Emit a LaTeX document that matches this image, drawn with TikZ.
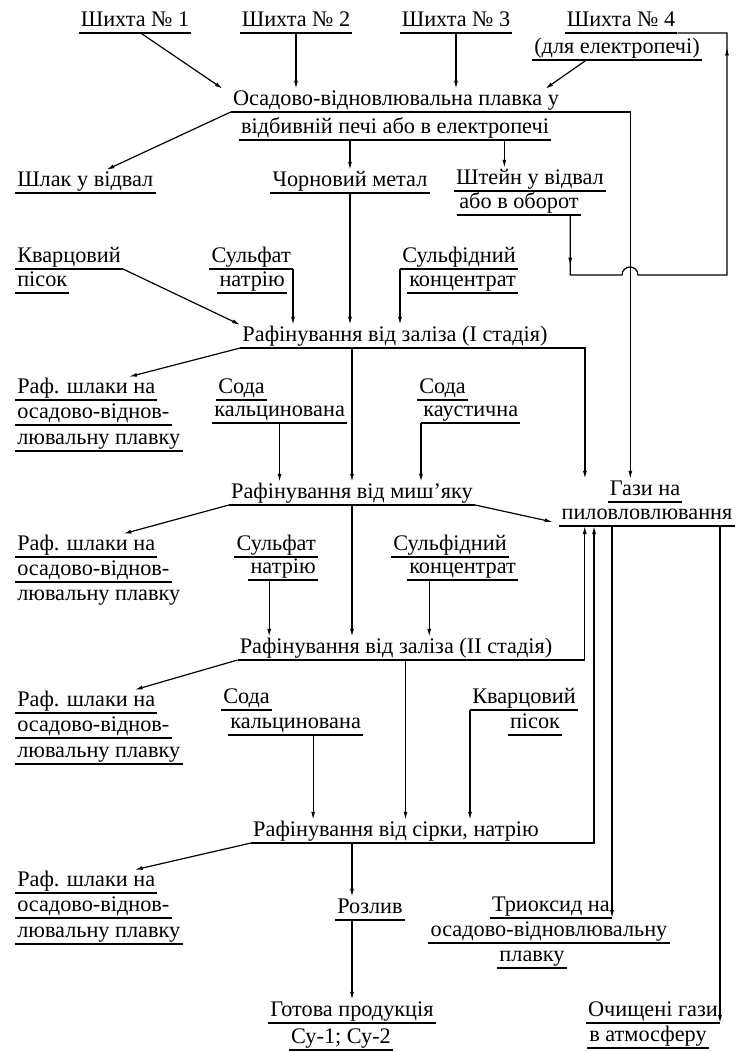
\documentclass[tikz,border=0pt]{standalone}
\usepackage{fontspec}
\setmainfont{Liberation Serif}
\usetikzlibrary{arrows.meta,calc,decorations.markings}

\begin{document}
\begin{tikzpicture}[x=0.75pt,y=-0.75pt,
    txt/.style={font=\fontsize{16.7}{19}\selectfont,inner xsep=1.5pt,inner ysep=0pt,
      text height=12pt,text depth=5pt,anchor=south},
    lbl/.style={txt,append after command={(\tikzlastnode.south west) edge[line width=1.8pt] (\tikzlastnode.south east)}},
    ln/.style={line width=0.9pt},
    arr/.style={ln,-{Latex[length=6pt,width=3pt]}}]
  \useasboundingbox (0,0) rectangle (735,1052);

  % charges and smelting
  \node[lbl] (sh1) at (135,33) {Шихта № 1};
  \node[lbl] (sh2) at (296,33) {Шихта № 2};
  \node[lbl] (sh3) at (456,33) {Шихта № 3};
  \node[lbl] (sh4) at (621,33) {Шихта № 4};
  \node[lbl] (sh4b) at (617,60) {(для електропечі)};
  \node[lbl] (osad) at (396,112) {Осадово-відновлювальна плавка у};
  \node[lbl] (osadb) at (395,140) {відбивній печі або в електропечі};
  \node[lbl,anchor=south west] (shlak) at (15,193) {Шлак у відвал};
  \node[lbl] (chorn) at (350,193) {Чорновий метал};
  \node[lbl] (shteyn) at (530,191) {Штейн у відвал};
  \node[lbl] (shteynb) at (519,215) {або в оборот};

  % refining, stage I
  \node[lbl,anchor=south west] (kv1) at (15,269) {Кварцовий};
  \node[lbl,anchor=south west] (kv1b) at (15,293) {пісок};
  \node[lbl,anchor=south east] (sul1) at (293,269) {Сульфат};
  \node[lbl,anchor=south east] (sul1b) at (287,293) {натрію};
  \node[lbl,anchor=south west] (sf1) at (400,269) {Сульфідний};
  \node[lbl,anchor=south west] (sf1b) at (407,293) {концентрат};
  \node[lbl] (raf1) at (395,348) {Рафінування від заліза (I стадія)};

  % slag outputs
  \foreach \i/\y in {1/400,3/713,4/893} {
    \node[lbl,anchor=south west] (sla\i) at (15,\y) {Раф. шлаки на};
    \node[lbl,anchor=south west] (slb\i) at (15,\y+25) {осадово-віднов-};
    \node[lbl,anchor=south west] (slc\i) at (15,\y+51) {лювальну плавку};
  }
  \node[lbl,anchor=south west] (sla2) at (15,557) {Раф. шлаки на};
  \node[lbl,anchor=south west] (slb2) at (15,582) {осадово-віднов-};
  \node[txt,anchor=south west] (slc2) at (15,607) {лювальну плавку};

  % arsenic
  \node[lbl,anchor=south west] (soda1) at (216,400) {Сода};
  \node[lbl,anchor=south west] (soda1b) at (212,423) {кальцинована};
  \node[lbl,anchor=south west] (soda2) at (417,400) {Сода};
  \node[lbl,anchor=south west] (soda2b) at (421,423) {каустична};
  \node[lbl] (raf2) at (352,505) {Рафінування від миш’яку};
  \node[lbl] (gazy) at (645,502) {Гази на};
  \node[lbl] (gazyb) at (647,526) {пиловловлювання};

  % refining, stage II
  \node[lbl,anchor=south east] (sul2) at (318,557) {Сульфат};
  \node[lbl,anchor=south east] (sul2b) at (318,580) {натрію};
  \node[lbl,anchor=south west] (sf2) at (391,557) {Сульфідний};
  \node[lbl,anchor=south west] (sf2b) at (407,580) {концентрат};
  \node[lbl] (raf3) at (396,660) {Рафінування від заліза (II стадія)};

  % sulphur, sodium
  \node[lbl,anchor=south west] (soda3) at (221,710) {Сода};
  \node[lbl,anchor=south west] (soda3b) at (228,735) {кальцинована};
  \node[lbl,anchor=south east] (kv2) at (578,710) {Кварцовий};
  \node[lbl] (kv2b) at (535,735) {пісок};
  \node[lbl] (raf4) at (396,843) {Рафінування від сірки, натрію};
  \node[lbl] (rozl) at (370,920) {Розлив};
  \node[lbl] (got) at (352,1023) {Готова продукція};
  \node[lbl] (gotb) at (341,1050) {Су-1; Су-2};
  \node[lbl,anchor=south east] (tri) at (612,918) {Триоксид на};
  \node[lbl] (trib) at (549,943) {осадово-відновлювальну};
  \node[lbl] (tric) at (532,968) {плавку};
  \node[lbl,anchor=south east] (och) at (720,1023) {Очищені гази};
  \node[lbl] (ochb) at (648,1048) {в атмосферу};

  % connectors
  \draw[arr] ($(sh1.south west)!.55!(sh1.south east)$) -- ([xshift=-6pt]osad.north west);
  \draw[arr] (sh2.south) -- (sh2.south |- osad.north);
  \draw[arr] (sh3.south) -- (sh3.south |- osad.north);
  \draw[arr] ($(sh4b.south west)!.32!(sh4b.south east)$) -- ([xshift=-12pt]osad.north east);
  \draw[arr] (osad.south west) -- ($(shlak.north west)!.65!(shlak.north east)$);
  \draw[arr] (osad.south east) -| ([xshift=-11pt]gazy.north);
  \draw[arr] (osadb.south -| chorn.north) -- (chorn.north);
  \draw[arr] ($(osadb.south west)!.85!(osadb.south east)$) coordinate (t) -- (t |- shteyn.north);
  \draw[arr] (chorn.south) -- (chorn.south |- raf1.north);

  % matte back to charge 4
  \coordinate (hopA) at (622,275);
  \coordinate (loopB) at (727,275);
  \draw[ln,postaction={decorate},decoration={markings,
      mark=at position 38pt with {\arrow{Latex[length=6pt,width=3pt]}},
      mark=at position -48pt with {\arrow{Latex[length=6pt,width=3pt]}}}]
    ([xshift=-8pt]shteynb.south east) |- (hopA) arc[start angle=180,end angle=360,radius=8]
    -- (loopB) |- (sh4.south east);

  \draw[arr] (kv1.south east) -- (raf1.north west);
  \draw[arr] (sul1.south east) -- (sul1.south east |- raf1.north);
  \draw[arr] (sf1.south west) -- (sf1.south west |- raf1.north);
  \draw[arr] (raf1.south west) -- ($(sla1.north west)!.8!(sla1.north east)$);
  \draw[arr] (raf1.south -| raf2.north) -- (raf2.north);
  \draw[arr] (raf1.south east) -| ([xshift=-17pt]gazy.north west);

  \draw[arr] (soda1b.south) -- (soda1b.south |- raf2.north);
  \draw[arr] (soda2b.south west) -- (soda2b.south west |- raf2.north);
  \draw[arr] (raf2.south west) -- ($(sla2.north west)!.76!(sla2.north east)$);
  \draw[arr] (raf2.south) -- (raf2.south |- raf3.north);
  \draw[arr] (raf2.south east) -- ([xshift=-5pt,yshift=3pt]gazyb.south west);

  \draw[arr] ($(sul2b.south west)!.3!(sul2b.south east)$) coordinate (t) -- (t |- raf3.north);
  \draw[arr] ($(sf2b.south west)!.2!(sf2b.south east)$) coordinate (t) -- (t |- raf3.north);
  \draw[arr] (raf3.south west) -- ($(sla3.north west)!.84!(sla3.north east)$);
  \draw[arr] ($(raf3.south west)!.53!(raf3.south east)$) coordinate (t) -- (t |- raf4.north);
  \draw[arr] (raf3.south east) -| ([xshift=19pt]gazyb.south west);

  \draw[arr] ($(soda3b.south west)!.63!(soda3b.south east)$) coordinate (t) -- (t |- raf4.north);
  \draw[arr] (kv2.south west) -- (kv2.south west |- raf4.north);
  \draw[arr] (raf4.south west) -- ($(sla4.north west)!.84!(sla4.north east)$);
  \draw[arr] (raf4.south -| got.north) -- (got.north |- rozl.north);
  \draw[arr] (rozl.south -| got.north) -- (got.north);
  \draw[arr] (raf4.south east) -| ([xshift=26pt]gazyb.south west);

  \draw[arr] (tri.south east |- gazyb.south) -- (tri.south east);
  \draw[arr] (och.south east |- gazyb.south) -- (och.south east);
\end{tikzpicture}
\end{document}
